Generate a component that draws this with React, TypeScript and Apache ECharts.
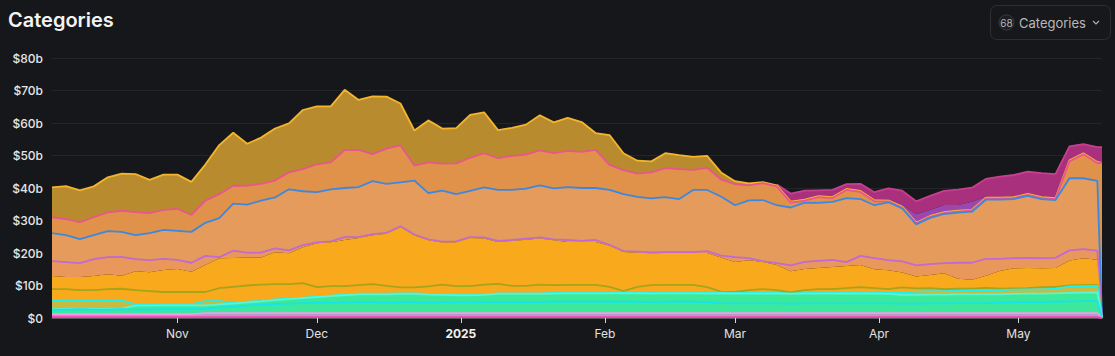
import React, { useEffect, useRef } from "react";
import * as echarts from "echarts";

const dates = [
  "2024-10-05","2024-10-08","2024-10-11","2024-10-14","2024-10-17","2024-10-20","2024-10-23","2024-10-26","2024-10-29","2024-11-01",
  "2024-11-04","2024-11-07","2024-11-10","2024-11-13","2024-11-16","2024-11-19","2024-11-22","2024-11-25","2024-11-28","2024-12-01",
  "2024-12-04","2024-12-07","2024-12-10","2024-12-13","2024-12-16","2024-12-19","2024-12-22","2024-12-25","2024-12-28","2024-12-31",
  "2025-01-03","2025-01-06","2025-01-09","2025-01-12","2025-01-15","2025-01-18","2025-01-21","2025-01-24","2025-01-27","2025-01-30",
  "2025-02-02","2025-02-05","2025-02-08","2025-02-11","2025-02-14","2025-02-17","2025-02-20","2025-02-23","2025-02-26","2025-03-01",
  "2025-03-04","2025-03-07","2025-03-10","2025-03-13","2025-03-16","2025-03-19","2025-03-22","2025-03-25","2025-03-28","2025-03-31",
  "2025-04-03","2025-04-06","2025-04-09","2025-04-12","2025-04-15","2025-04-18","2025-04-21","2025-04-24","2025-04-27","2025-04-30",
  "2025-05-03","2025-05-06","2025-05-09","2025-05-12","2025-05-15","2025-05-18","2025-05-19"
];

const monthNames = ["2025","Feb","Mar","Apr","May","Jun","Jul","Aug","Sep","Oct","Nov","Dec"];
const yTicks = [0, 10, 20, 30, 40, 50, 60, 70, 80];

// values in $ billions, bottom of the stack first
const others = [
  0.3,0.3,0.3,0.3,0.3,0.3,0.3,0.3,0.3,0.3, 0.3,0.3,0.3,0.3,0.3,0.3,0.3,0.3,0.3,0.3,
  0.3,0.3,0.3,0.3,0.3,0.3,0.3,0.3,0.3,0.3, 0.3,0.3,0.3,0.3,0.3,0.3,0.3,0.3,0.3,0.3,
  0.3,0.3,0.3,0.3,0.3,0.3,0.3,0.3,0.3,0.3, 0.3,0.3,0.3,0.3,0.3,0.3,0.3,0.3,0.3,0.3,
  0.3,0.3,0.3,0.3,0.3,0.3,0.3,0.3,0.3,0.3, 0.3,0.3,0.3,0.3,0.3,0.3,0
];
const services = [
  0.9,0.9,0.9,0.9,0.9,0.9,0.9,0.9,0.9,0.9, 0.9,1.2,1.2,1.2,1.2,1.2,1.2,1.2,1.2,1.2,
  1.2,1.2,1.2,1.2,1.2,1.2,1.2,1.2,1.2,1.2, 1.2,1.2,1.2,1.2,1.2,1.2,1.2,1.2,1.2,1.2,
  1.2,1.2,1.2,1.2,1.2,1.2,1.2,1.2,1.2,1.2, 1.2,1.2,1.2,1.2,1.2,1.2,1.2,1.2,1.2,1.2,
  1.2,1.2,1.2,1.2,1.2,1.2,1.2,1.2,1.2,1.2, 1.2,1.2,1.2,1.2,1.2,1.2,0
];
const rwa = [
  1.4,1.4,1.5,1.4,1.4,1.5,1.4,1.4,1.5,1.5, 1.5,1.4,1.7,2.0,2.3,2.6,2.8,2.9,3.1,3.2,
  3.2,3.3,3.3,3.3,3.2,3.3,3.3,3.2,3.3,3.3, 3.3,3.3,3.4,3.4,3.4,3.4,3.5,3.5,3.5,3.5,
  3.5,3.5,3.5,3.4,3.5,3.5,3.5,3.4,3.1,3.0, 3.0,3.0,3.0,2.9,3.0,3.0,3.0,3.0,3.0,3.0,
  3.0,2.9,2.9,3.0,3.0,3.1,3.1,3.1,3.2,3.3, 3.4,3.4,3.5,3.6,3.7,3.8,0
];
const basisTrading = [
  0.2,0.2,0.2,0.2,0.2,0.2,1.2,1.2,1.2,1.2, 1.2,1.0,1.0,0.9,1.0,1.0,1.2,1.4,1.5,1.7,
  2.0,2.2,2.5,2.5,2.6,2.6,2.6,2.5,2.3,2.2, 2.2,2.3,2.5,2.5,2.5,2.5,2.5,2.6,2.6,2.6,
  2.6,2.6,2.6,2.6,2.6,2.6,2.6,2.6,3.0,3.0, 3.0,3.0,3.0,3.0,3.0,3.0,3.0,3.0,3.0,3.0,
  2.9,2.7,2.7,2.7,2.7,2.7,2.7,2.7,2.6,2.6, 2.6,2.6,2.6,2.6,2.6,2.6,0
];
const yieldCat = [
  2.6,2.6,2.5,2.6,2.6,2.6,0.3,0.3,0.3,0.3, 0.3,1.3,1.1,0.2,0.2,0.2,0.2,0.2,0.2,0.2,
  0.2,0.2,0.2,0.2,0.2,0.2,0.2,0.2,0.2,0.2, 0.2,0.2,0.2,0.2,0.2,0.2,0.2,0.2,0.2,0.2,
  0.2,0.2,0.2,0.2,0.2,0.2,0.2,0.2,0.2,0.2, 0.2,0.2,0.2,0.2,0.2,0.2,0.2,0.2,0.2,0.2,
  0.5,0.7,1.0,1.1,1.1,1.1,1.2,1.2,1.3,1.3, 1.3,1.3,1.4,2.0,2.0,2.0,0
];
const cdp = [
  3.5,3.5,3.2,3.2,3.5,3.5,4.5,4.2,3.8,3.8, 3.8,2.8,3.9,5.0,5.0,5.0,4.7,4.4,4.4,2.9,
  2.9,2.6,2.6,2.9,2.4,1.8,1.8,2.3,3.0,2.6, 2.6,3.0,2.9,2.3,2.3,2.7,2.4,2.4,2.4,2.4,
  1.8,0.5,1.8,2.4,2.4,2.4,2.4,1.8,0.3,0.3, 0.9,1.2,0.9,0.3,0.9,1.2,1.2,1.5,1.8,1.5,
  1.0,1.6,1.0,0.9,0.6,0.6,0.5,0.8,0.4,0.4, 0.4,0.7,0.6,0.3,0.3,0.3,0
];
const bridge = [
  4.0,3.7,4.0,4.3,4.6,4.0,5.8,5.8,6.8,7.1, 6.2,8.3,9.2,8.9,8.6,8.3,9.8,9.5,11.1,13.5,
  13.5,14.2,14.5,15.1,16.0,18.5,16.0,14.2,12.9,13.5, 14.8,14.2,12.9,13.8,14.2,14.2,13.8,13.2,13.2,13.2,
  12.6,12.0,10.5,9.8,9.8,9.8,9.8,10.5,10.5,9.2, 9.2,8.3,7.7,6.5,6.5,6.5,6.8,6.8,6.8,5.8,
  5.8,4.6,3.7,4.0,4.9,3.1,2.8,3.7,5.5,6.2, 6.2,5.8,5.8,7.7,8.3,7.7,0
];
const dexs = [
  4.6,4.6,4.3,5.2,5.2,5.8,3.7,3.7,3.4,2.8, 2.8,2.8,0.3,2.2,1.5,1.5,1.2,0.9,0.6,0.3,
  0.3,0.9,0.3,0.3,0.3,0.3,0.3,0.3,0.3,0.3, 0.3,0.3,0.3,0.3,0.3,0.3,0.3,0.6,0.3,0.6,
  0.3,0.3,0.3,0.3,0.3,0.3,0.3,0.6,0.6,1.5, 0.6,0.3,0.6,1.8,2.2,2.2,2.2,1.2,2.8,3.4,
  3.1,3.4,3.4,3.4,3.1,4.9,5.2,5.2,3.7,3.1, 3.1,3.1,3.1,3.1,2.8,2.8,0
];
const lending = [
  8.6,8.3,7.4,7.4,8.0,7.7,7.4,8.3,8.9,8.9, 9.5,10.2,12.0,14.5,14.8,16.0,15.7,18.8,16.6,15.4,
  16.0,15.1,15.4,16.3,15.1,13.5,16.6,14.2,15.7,14.5, 14.2,15.4,15.7,15.4,15.4,16.0,15.7,16.3,16.3,16.0,
  16.9,17.5,16.9,16.6,16.9,16.3,19.1,18.8,18.2,16.0, 17.8,18.8,17.8,17.8,18.2,17.8,17.8,19.7,17.5,16.3,
  17.8,16.3,12.6,14.2,15.1,15.4,15.7,18.2,18.2,18.2, 19.1,18.2,17.8,22.2,21.8,21.5,0
];
const restaking = [
  4.9,4.9,5.2,5.5,5.8,6.5,7.1,6.2,6.2,6.8, 5.2,6.8,7.4,5.5,5.8,5.2,5.2,5.2,6.8,8.6,
  8.3,11.7,11.4,8.3,10.8,11.4,4.6,9.5,8.3,9.5, 10.2,10.5,9.8,10.5,10.5,10.8,10.8,11.1,11.1,11.7,
  7.7,7.4,7.1,8.0,8.9,9.2,6.2,6.8,5.2,6.5, 4.6,5.2,5.8,1.5,0.6,1.8,1.2,2.5,2.2,1.2,
  0.3,0.3,0.3,0.3,0.3,0.3,0.3,0.3,0.3,0.3, 0.3,0.3,0.3,5.2,7.4,5.5,47.7
];
const liquidStaking = [
  9.2,10.2,9.8,9.5,10.8,11.4,11.7,10.2,10.8,10.5, 10.2,11.1,15.1,16.3,12.9,14.2,16.0,15.1,18.2,17.8,
  17.2,18.5,15.4,17.8,16.0,12.9,10.8,12.9,10.8,10.8, 13.2,12.6,8.6,8.6,9.2,10.8,9.5,10.2,9.2,5.2,
  9.2,5.2,4.0,3.4,4.6,4.3,4.0,3.7,2.2,0.9, 0.6,0.3,0.3,0.3,0.3,0.3,0.3,0.3,0.3,0.3,
  0.3,0.3,0.3,0.3,0.3,0.3,0.3,0.3,0.3,0.3, 0.3,0.3,0.3,0.3,0.3,0.3,0
];
const liquidRestaking = [
  null,null,null,null,null,null,null,null,null,null, null,null,null,null,null,null,null,null,null,null,
  null,null,null,null,null,null,null,null,null,null, null,null,null,null,null,null,null,null,null,null,
  null,null,null,null,null,null,null,null,null,null, null,null,null,null,null,null,null,null,null,null,
  0.3,0.6,2.5,1.8,2.2,1.8,2.5,0.3,null,null, null,null,null,null,null,null,null
];
const derivatives = [
  null,null,null,null,null,null,null,null,null,null, null,null,null,null,null,null,null,null,null,null,
  null,null,null,null,null,null,null,null,null,null, null,null,null,null,null,null,null,null,null,null,
  null,null,null,null,null,null,null,null,null,null, null,null,0.3,2.5,2.8,1.8,2.2,1.5,2.2,2.5,
  3.4,4.3,4.0,4.4,4.3,4.7,4.3,5.5,6.5,6.8, 6.8,7.4,7.4,4.3,2.8,4.6,4.9
];

const layers = [
  { name: "Others", data: others, fill: "#d8379a", line: "#ff3cb6" },
  { name: "Services", data: services, fill: "#b59bc6", line: "#f49ae8" },
  { name: "RWA", data: rwa, fill: "#3ce89c", line: "#16e2f0" },
  { name: "Basis Trading", data: basisTrading, fill: "#3be99a", line: "#5af4d6" },
  { name: "Yield", data: yieldCat, fill: "#c8bb40", line: "#22f0ea" },
  { name: "CDP", data: cdp, fill: "#f9a91c", line: "#a6a31c" },
  { name: "Bridge", data: bridge, fill: "#f9a91c", line: "transparent" },
  { name: "Dexs", data: dexs, fill: "#e9975b", line: "#c06ad2" },
  { name: "Lending", data: lending, fill: "#e49b5c", line: "#3c88e0" },
  { name: "Restaking", data: restaking, fill: "#e0924b", line: "#e8568e" },
  { name: "Liquid Staking", data: liquidStaking, fill: "#b88c2e", line: "#f4b52c" },
  { name: "Liquid Restaking", data: liquidRestaking, fill: "#9a47b0", line: "transparent" },
  { name: "Derivatives", data: derivatives, fill: "#a8307c", line: "#c93f90" },
];

function ts(s: string): number {
  const [y, m, d] = s.split("-").map(Number);
  return new Date(y, m - 1, d).getTime();
}

const DAY = 24 * 3600 * 1000;

export default function App() {
  const ref = useRef<HTMLDivElement>(null);
  useEffect(() => {
    document.body.style.margin = "0";
    document.body.style.background = "#16171a";
    if (!ref.current) return;
    const chart = echarts.init(ref.current, undefined, { renderer: "svg" });
    const n = layers.length;
    const font = "Inter, 'Noto Sans', sans-serif";
    chart.setOption({
      animation: false,
      backgroundColor: "#16171a",
      title: {
        text: "Categories",
        left: 8,
        top: 10,
        padding: 0,
        textStyle: { color: "#f3f3f3", fontSize: 20, fontWeight: 600, fontFamily: font },
      },
      grid: { left: 52, right: 13, top: 58, bottom: 38, containLabel: false },
      xAxis: {
        type: "time",
        min: ts(dates[0]),
        max: ts(dates[dates.length - 1]),
        minInterval: 28 * DAY,
        maxInterval: 31 * DAY,
        axisLine: { show: true, onZero: false, lineStyle: { color: "#55575b", width: 1 } },
        axisTick: { show: true, length: 5, lineStyle: { color: "#d9d9d9", width: 1 } },
        axisLabel: {
          hideOverlap: false,
          showMinLabel: false,
          showMaxLabel: false,
          color: "#e2e2e2",
          fontSize: 12,
          fontFamily: font,
          margin: 9,
          formatter: (v: number) => {
            const dt = new Date(v);
            if (dt.getDate() !== 1) return "";
            const m = dt.getMonth();
            return m === 0 ? "{y|" + dt.getFullYear() + "}" : monthNames[m];
          },
          rich: { y: { fontWeight: "bold", color: "#f2f2f2", fontSize: 12, fontFamily: font } },
        },
        splitLine: { show: false },
      },
      yAxis: {
        type: "value",
        min: yTicks[0],
        max: yTicks[yTicks.length - 1],
        interval: 10,
        axisLine: { show: false },
        axisTick: { show: false },
        axisLabel: {
          color: "#e6e6e6",
          fontSize: 12,
          fontWeight: 500,
          fontFamily: font,
          margin: 9,
          formatter: (v: number) => (v === 0 ? "$0" : "$" + v + "b"),
        },
        splitLine: { lineStyle: { color: "#232529", width: 1 } },
      },
      graphic: [
        { type: "rect", shape: { x: 990.5, y: 5.5, width: 120, height: 34, r: 6 }, style: { fill: "#17181b", stroke: "#2d2f34", lineWidth: 1 } },
        { type: "circle", shape: { cx: 1006.5, cy: 22.5, r: 7.5 }, style: { fill: "#1c1d21", stroke: "#3b3d42", lineWidth: 1 } },
        { type: "text", x: 1006.5, y: 22.5, style: { text: "68", fill: "#b9b9b9", fontSize: 10, fontFamily: font, align: "center", verticalAlign: "middle" } },
        { type: "text", x: 1019, y: 22.5, style: { text: "Categories", fill: "#b9b9b9", fontSize: 13, fontFamily: font, align: "left", verticalAlign: "middle" } },
        { type: "polyline", shape: { points: [[1093, 21], [1096, 24], [1099, 21]] }, style: { stroke: "#b0b0b0", lineWidth: 1.2, fill: "none" } },
      ],
      series: layers.map((l, i) => ({
        name: l.name,
        type: "line",
        stack: "total",
        data: dates.map((d, j) => [ts(d), l.data[j] === null ? "-" : l.data[j]]),
        symbol: "none",
        showSymbol: false,
        connectNulls: false,
        z: 2 + (n - 1 - i),
        lineStyle: { color: l.line, width: 1.8 },
        itemStyle: { color: l.fill },
        areaStyle: { color: l.fill, opacity: 1 },
        emphasis: { disabled: true },
      })),
    });
    return () => chart.dispose();
  }, []);
  return <div ref={ref} style={{ position: "fixed", left: 0, top: 0, width: 1115, height: 356 }} />;
}
